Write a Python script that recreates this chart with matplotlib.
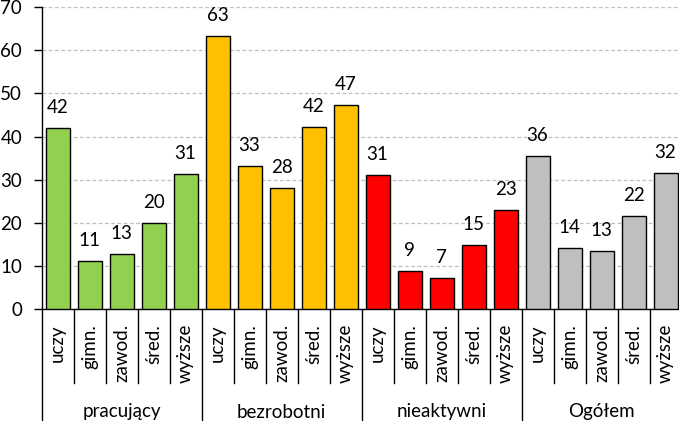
import matplotlib
matplotlib.use("Agg")
import matplotlib.pyplot as plt
import matplotlib.transforms as mtransforms

plt.rcParams['font.family'] = ['Lato', 'DejaVu Sans']

groups = ['pracujący', 'bezrobotni', 'nieaktywni', 'Ogółem']
levels = ['uczy', 'gimn.', 'zawod.', 'śred.', 'wyższe']
pracujacy = [41.9, 11.3, 12.7, 19.9, 31.3]
bezrobotni = [63.2, 33.1, 28.0, 42.1, 47.2]
nieaktywni = [31.0, 8.8, 7.2, 15.0, 23.1]
ogolem = [35.6, 14.3, 13.4, 21.5, 31.5]
colors = ['#92D050', '#FFC000', '#FF0000', '#BFBFBF']

series = [pracujacy, bezrobotni, nieaktywni, ogolem]

W, H = 679, 421
fig = plt.figure(figsize=(W / 100, H / 100), dpi=100)
left_px, bottom_px, top_px = 41.5, 309.3, 7.0
ax = fig.add_axes([left_px / W, (H - bottom_px) / H, (W - left_px) / W, (bottom_px - top_px) / H])

step = 32.0  # pixels per category
ax.set_xlim(-0.5, -0.5 + (W - left_px) / step)
ax.set_ylim(0, 70)

fs = 13.5
x = 0
for g, vals in enumerate(series):
    for v in vals:
        ax.bar(x, v, width=0.75, color=colors[g], edgecolor='black', linewidth=1.0, zorder=3)
        ax.annotate(f'{v:.0f}', (x, v), xytext=(0, 10.8), textcoords='offset points',
                    ha='center', va='baseline', fontsize=fs, color='black')
        x += 1

ax.set_yticks(range(0, 71, 10))
ax.tick_params(axis='y', labelsize=fs, length=6, width=1, direction='out', pad=8)
ax.set_xticks([])
for y in range(10, 71, 10):
    ax.axhline(y, color='#BFBFBF', linewidth=0.9, linestyle=(0, (3, 2)), zorder=1)

for s in ['top', 'right']:
    ax.spines[s].set_visible(False)
ax.spines['left'].set_linewidth(1)
ax.spines['bottom'].set_linewidth(1)

trans = mtransforms.blended_transform_factory(ax.transData, ax.transAxes)
h = bottom_px - top_px
cat_bot = -(383 - bottom_px) / h
grp_bot = -(421 - bottom_px) / h
cat_y = -(324 - bottom_px) / h
grp_y = -(412 - bottom_px) / h

n = len(groups) * len(levels)
for k in range(n + 1):
    xb = k - 0.5
    yb = grp_bot if k % len(levels) == 0 else cat_bot
    ax.plot([xb, xb], [0, yb], transform=trans, color='black', linewidth=1, clip_on=False)

for k in range(n):
    ax.text(k, cat_y, levels[k % len(levels)], transform=trans, rotation=90,
            ha='center', va='top', fontsize=fs)

for g, name in enumerate(groups):
    xc = g * len(levels) + (len(levels) - 1) / 2
    ax.text(xc, grp_y, name, transform=trans, ha='center', va='center', fontsize=fs)

fig.savefig('out.png', dpi=100)
